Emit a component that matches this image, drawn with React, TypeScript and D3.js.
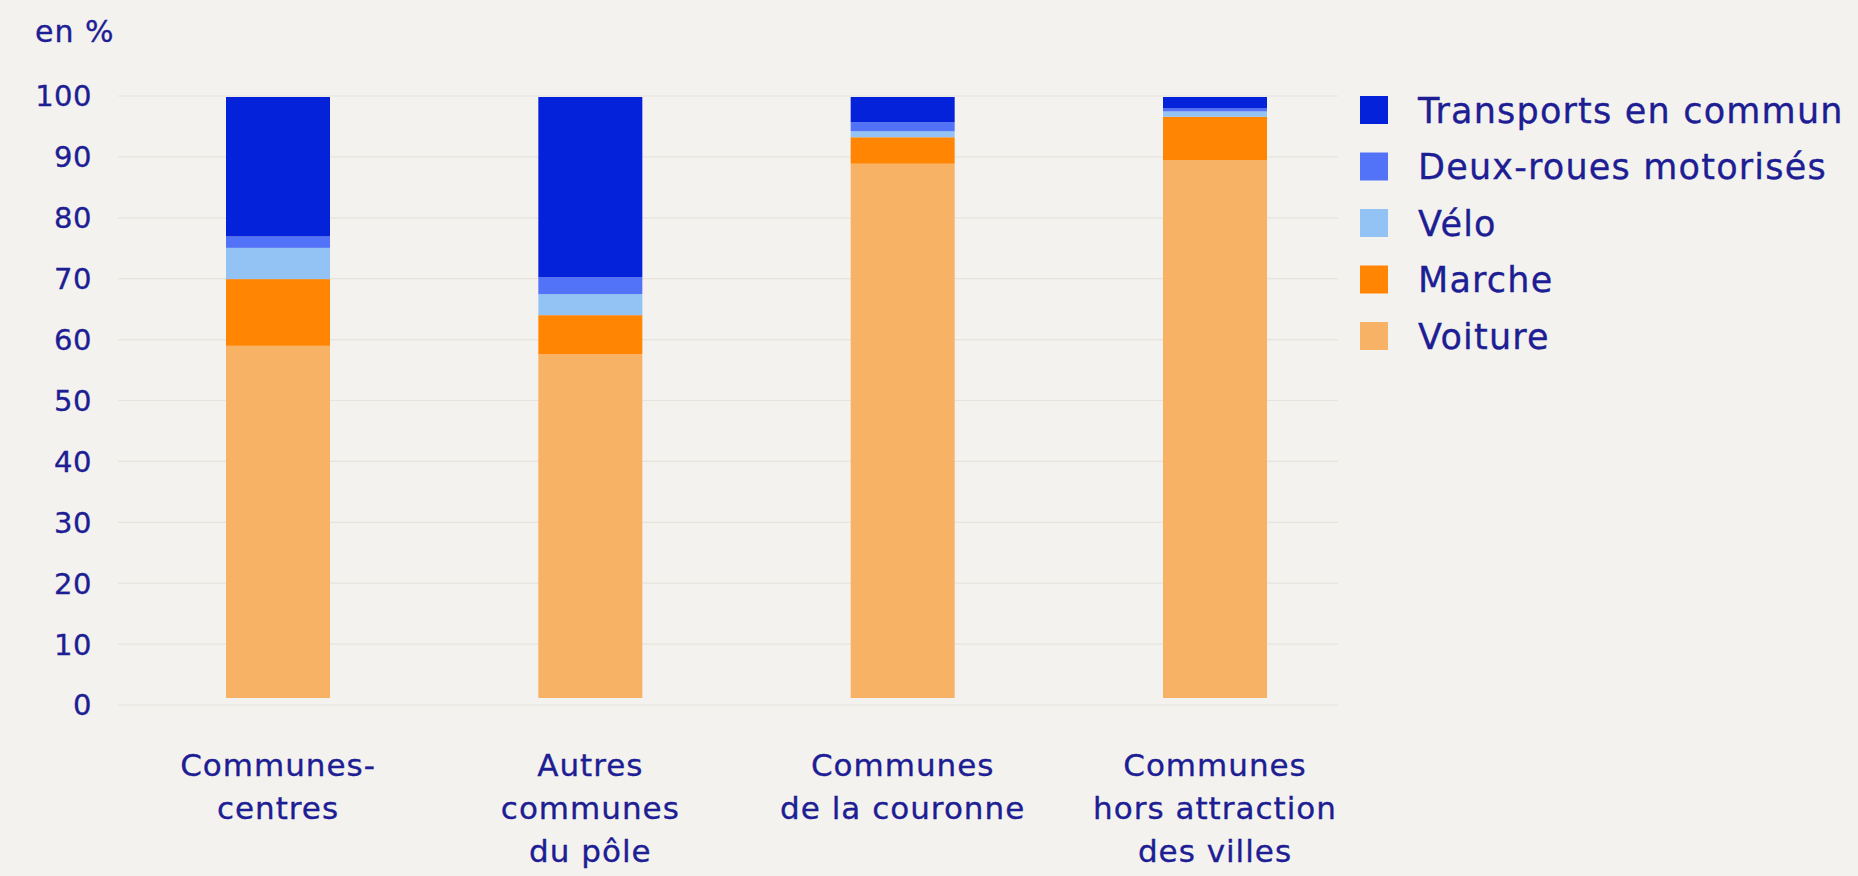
import React, { useEffect } from 'react';
import * as d3 from 'd3';

// Parts modales (en %) par type de commune
const categories = [
  'Communes-centres',
  'Autres communes du pôle',
  'Communes de la couronne',
  'Communes hors attraction des villes',
];
const categoryLines = [
  ['Communes-', 'centres'],
  ['Autres', 'communes', 'du pôle'],
  ['Communes', 'de la couronne'],
  ['Communes', 'hors attraction', 'des villes'],
];

const voiture = [58.6, 57.2, 88.9, 89.5];
const marche = [11.1, 6.5, 4.4, 7.2];
const velo = [5.2, 3.5, 1.0, 0.9];
const deuxRoues = [1.9, 2.8, 1.5, 0.5];
const transports = [23.2, 30.0, 4.2, 1.9];

// stacking order, bottom to top
const seriesKeys = ['voiture', 'marche', 'velo', 'deuxRoues', 'transports'];
const seriesLabels: Record<string, string> = {
  transports: 'Transports en commun',
  deuxRoues: 'Deux-roues motorisés',
  velo: 'Vélo',
  marche: 'Marche',
  voiture: 'Voiture',
};
const legendOrder = ['transports', 'deuxRoues', 'velo', 'marche', 'voiture'];
const yTicks = [0, 10, 20, 30, 40, 50, 60, 70, 80, 90, 100];

const colors: Record<string, string> = {
  transports: '#0322d9',
  deuxRoues: '#5273f7',
  velo: '#93c3f4',
  marche: '#ff8502',
  voiture: '#f8b266',
};

const W = 1858;
const H = 876;
const TEXT = '#1d1d94';
const FONT = "'DejaVu Sans', 'Noto Sans', sans-serif";

const App: React.FC = () => {
  useEffect(() => {
    document.body.style.margin = '0';
    document.body.style.background = '#f4f2ee';
  }, []);

  const rows = categories.map((c, i) => ({
    cat: c,
    voiture: voiture[i],
    marche: marche[i],
    velo: velo[i],
    deuxRoues: deuxRoues[i],
    transports: transports[i],
  }));
  const stacked = d3.stack<any>().keys(seriesKeys)(rows);

  const x = d3.scalePoint<string>().domain(categories).range([278, 1215]);
  const barW = 104;
  // grid / tick labels
  const yAxis = d3.scaleLinear().domain([0, 100]).range([705, 96]);
  // bars
  const yBar = d3.scaleLinear().domain([0, 100]).range([698, 97]);

  const textStyle = { fill: TEXT, stroke: TEXT, strokeWidth: 0.35 };

  return (
    <svg width={W} height={H} style={{ display: 'block', background: '#f4f2ee' }} fontFamily={FONT}>
      <rect x={0} y={0} width={W} height={H} fill="#f4f2ee" />
      <text x={35} y={42} fontSize={30} letterSpacing={1} {...textStyle}>en %</text>

      {yTicks.map(t => (
        <g key={t}>
          <line x1={118} x2={1338} y1={yAxis(t)} y2={yAxis(t)} stroke="#e6e3dc" strokeWidth={1.2} />
          <text x={92} y={yAxis(t)} dy="0.36em" textAnchor="end" fontSize={29} letterSpacing={0.5} {...textStyle}>{t}</text>
        </g>
      ))}

      {stacked.map(s => (
        <g key={s.key} fill={colors[s.key]}>
          {s.map((d, i) => (
            <rect
              key={i}
              x={(x(categories[i]) as number) - barW / 2}
              y={yBar(d[1])}
              width={barW}
              height={yBar(d[0]) - yBar(d[1])}
            />
          ))}
        </g>
      ))}

      {categoryLines.map((lines, i) => (
        <text key={i} textAnchor="middle" fontSize={31} letterSpacing={1} {...textStyle}>
          {lines.map((l, j) => (
            <tspan key={j} x={x(categories[i]) as number} y={776 + j * 43}>{l}</tspan>
          ))}
        </text>
      ))}

      {legendOrder.map((k, i) => {
        const cy = 110 + i * 56.5;
        return (
          <g key={k}>
            <rect x={1360} y={cy - 14} width={28} height={28} fill={colors[k]} />
            <text x={1418} y={cy} dy="0.36em" fontSize={35} letterSpacing={1.2} {...textStyle}>{seriesLabels[k]}</text>
          </g>
        );
      })}
    </svg>
  );
};

export default App;
